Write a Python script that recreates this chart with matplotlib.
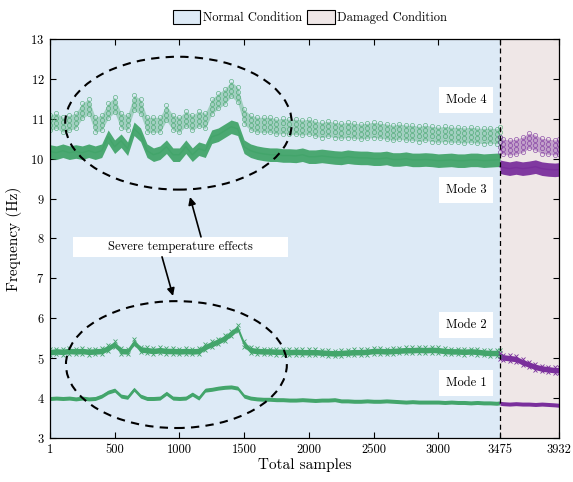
import numpy as np
import matplotlib
matplotlib.use("Agg")
import matplotlib.pyplot as plt
from matplotlib.patches import Ellipse, Patch, Rectangle

plt.rcParams.update({
    "font.family": ["cmr10", "DejaVu Serif"],
    "mathtext.fontset": "cm",
    "axes.formatter.use_mathtext": True,
    "axes.unicode_minus": False,
})

# ---- sample grids ---------------------------------------------------------
normal_samples = [1] + list(range(50, 3451, 50)) + [3475]
damaged_samples = [3476] + list(range(3500, 3901, 50)) + [3932]

# ---- identified natural frequencies (Hz), healthy state -------------------
mode1_normal = [
    3.99, 4.00, 3.99, 4.00, 3.98, 4.00, 3.98, 3.99, 4.05, 4.15,
    4.20, 4.05, 4.02, 4.22, 4.05, 3.99, 3.99, 4.00, 4.12, 4.00,
    3.99, 4.00, 4.10, 4.00, 4.20, 4.22, 4.25, 4.27, 4.28, 4.25,
    4.05, 4.00, 3.98, 3.97, 3.97, 3.96, 3.96, 3.95, 3.95, 3.96,
    3.95, 3.94, 3.95, 3.95, 3.96, 3.93, 3.93, 3.92, 3.92, 3.93,
    3.92, 3.92, 3.93, 3.92, 3.91, 3.90, 3.91, 3.90, 3.90, 3.90,
    3.90, 3.89, 3.90, 3.89, 3.89, 3.88, 3.89, 3.88, 3.88, 3.87,
    3.88,
]
mode2_normal = [
    5.15, 5.17, 5.16, 5.18, 5.17, 5.18, 5.16, 5.17, 5.18, 5.25,
    5.35, 5.18, 5.17, 5.40, 5.22, 5.20, 5.18, 5.20, 5.18, 5.18,
    5.17, 5.18, 5.17, 5.18, 5.28, 5.35, 5.42, 5.50, 5.62, 5.75,
    5.35, 5.20, 5.18, 5.17, 5.17, 5.16, 5.16, 5.15, 5.16, 5.15,
    5.15, 5.15, 5.14, 5.13, 5.12, 5.13, 5.14, 5.15, 5.15, 5.16,
    5.18, 5.18, 5.17, 5.18, 5.19, 5.20, 5.20, 5.21, 5.20, 5.21,
    5.20, 5.18, 5.17, 5.17, 5.16, 5.17, 5.16, 5.14, 5.13, 5.13,
    5.13,
]
mode3_normal = [
    10.18, 10.15, 10.20, 10.15, 10.18, 10.15, 10.20, 10.15, 10.20, 10.55,
    10.30, 10.45, 10.25, 10.75, 10.60, 10.20, 10.10, 10.15, 10.30, 10.10,
    10.10, 10.30, 10.10, 10.25, 10.20, 10.55, 10.60, 10.70, 10.80, 10.75,
    10.30, 10.20, 10.15, 10.12, 10.10, 10.10, 10.08, 10.08, 10.07, 10.10,
    10.05, 10.05, 10.07, 10.05, 10.03, 10.02, 10.05, 10.03, 10.02, 10.02,
    10.00, 10.00, 10.02, 9.98, 9.98, 10.00, 9.97, 9.97, 9.98, 9.97,
    9.95, 9.96, 9.97, 9.95, 9.95, 9.97, 9.97, 9.95, 9.96, 9.97,
    9.97,
]
mode4_normal = [
    10.90, 10.95, 10.85, 10.90, 10.95, 11.20, 11.30, 10.85, 10.90, 11.20,
    11.35, 10.95, 10.90, 11.40, 11.30, 10.85, 10.85, 10.85, 11.15, 10.90,
    10.85, 11.00, 10.90, 11.00, 10.95, 11.30, 11.45, 11.55, 11.75, 11.60,
    11.05, 10.90, 10.85, 10.85, 10.85, 10.80, 10.82, 10.80, 10.80, 10.78,
    10.80, 10.75, 10.72, 10.75, 10.72, 10.70, 10.72, 10.70, 10.68, 10.70,
    10.72, 10.70, 10.68, 10.65, 10.68, 10.65, 10.65, 10.62, 10.65, 10.62,
    10.60, 10.62, 10.60, 10.60, 10.58, 10.60, 10.58, 10.57, 10.58, 10.56,
    10.60,
]

# ---- identified natural frequencies (Hz), damaged state -------------------
mode1_damaged = [3.87, 3.86, 3.85, 3.86, 3.85, 3.85, 3.84, 3.85, 3.84, 3.83, 3.82]
mode2_damaged = [5.05, 5.02, 5.00, 4.98, 4.90, 4.84, 4.78, 4.74, 4.72, 4.70, 4.70]
mode3_damaged = [9.80, 9.78, 9.75, 9.78, 9.75, 9.77, 9.80, 9.75, 9.73, 9.72, 9.73]
mode4_damaged = [10.35, 10.30, 10.28, 10.30, 10.35, 10.45, 10.40, 10.32, 10.30, 10.28, 10.30]

# half-width of the scatter band of each mode (Hz)
mode_spread = {"Mode 1": 0.05, "Mode 2": 0.07, "Mode 3": 0.17, "Mode 4": 0.19}

x_ticks = [1, 500, 1000, 1500, 2000, 2500, 3000, 3475, 3932]
y_ticks = list(range(3, 14))

GREEN = "#43a56b"
PURPLE = "#7a2f9c"
NORMAL_BG = "#ddeaf6"
DAMAGED_BG = "#efe7e7"

fig = plt.figure(figsize=(5.73, 4.82), dpi=100)
ax = fig.add_axes([0.0873, 0.0913, 0.8883, 0.8278])

ax.axvspan(1, 3475, color=NORMAL_BG, zorder=0, lw=0)
ax.axvspan(3475, 3932, color=DAMAGED_BG, zorder=0, lw=0)


def band(x, y, sp, color, alpha=1.0):
    y = np.asarray(y)
    ax.fill_between(x, y - sp, y + sp, color=color, alpha=alpha, lw=0, zorder=2)


for xs, color, data in [
    (normal_samples, GREEN, (mode1_normal, mode2_normal, mode3_normal, mode4_normal)),
    (damaged_samples, PURPLE, (mode1_damaged, mode2_damaged, mode3_damaged, mode4_damaged)),
]:
    m1, m2, m3, m4 = data
    # Mode 1: dense dots
    band(xs, m1, mode_spread["Mode 1"], color)
    ax.plot(xs, m1, color=color, lw=1.0, zorder=3)
    # Mode 2: crosses
    sp = mode_spread["Mode 2"]
    band(xs, m2, sp, color)
    for off in (-sp, sp):
        ax.plot(xs, np.asarray(m2) + off, ls="none", marker="x", ms=2.5,
                mew=0.6, color=color, zorder=3)
    # Mode 3: continuous line
    sp = mode_spread["Mode 3"]
    band(xs, m3, sp, color, alpha=0.95)
    ax.plot(xs, m3, color=color, lw=1.0, zorder=3)
    # Mode 4: open circles
    sp = mode_spread["Mode 4"]
    band(xs, m4, sp, color, alpha=0.38)
    for off in (-sp, -sp / 3, sp / 3, sp):
        ax.plot(xs, np.asarray(m4) + off, ls="none", marker="o", ms=3,
                mfc="none", mew=0.5, color=color, alpha=0.8, zorder=3)

ax.axvline(3475, color="black", lw=0.9, ls=(0, (4, 3)), zorder=4)

# regions of strong temperature influence
for cx, cy, w, h in [(993, 10.89, 1750, 3.33), (977, 4.84, 1706, 3.18)]:
    ax.add_patch(Ellipse((cx, cy), w, h, fill=False, ec="black", lw=1.5,
                         ls=(0, (4, 3)), zorder=5))

ax.add_patch(Rectangle((179, 7.54), 1660, 0.50, fc="white", ec="none", zorder=6))
ax.text(1009, 7.79, "Severe temperature effects", ha="center", va="center",
        fontsize=9, zorder=7)
arrow = dict(arrowstyle="-|>", color="black", lw=1.2, mutation_scale=11,
             shrinkA=0, shrinkB=0)
ax.annotate("", xy=(1082, 9.04), xytext=(1167, 8.04), arrowprops=arrow, zorder=7)
ax.annotate("", xy=(951, 6.56), xytext=(866, 7.54), arrowprops=arrow, zorder=7)

box = dict(boxstyle="square,pad=0.55", fc="white", ec="none")
for label, yv in [("Mode 4", 11.47), ("Mode 3", 9.22), ("Mode 2", 5.83), ("Mode 1", 4.38)]:
    ax.text(3214, yv, label, ha="center", va="center", fontsize=9, bbox=box, zorder=7)

ax.set_xlim(1, 3932)
ax.set_ylim(3, 13)
ax.set_xticks(x_ticks)
ax.set_xticklabels([str(t) for t in x_ticks])
ax.set_yticks(y_ticks)
ax.tick_params(direction="in", top=True, right=True, labeltop=False, labelright=False,
               length=4.5, width=0.8, labelsize=9, pad=4)
for s in ax.spines.values():
    s.set_linewidth(0.9)
    s.set_zorder(8)

ax.set_xlabel("Total samples", fontsize=11, labelpad=2)
ax.set_ylabel("Frequency (Hz)", fontsize=11, labelpad=6)

handles = [Patch(fc=NORMAL_BG, ec="black", lw=0.8, label="Normal Condition"),
           Patch(fc=DAMAGED_BG, ec="black", lw=0.8, label="Damaged Condition")]
fig.legend(handles=handles, loc="center", bbox_to_anchor=(0.541, 0.965), ncol=2,
           frameon=False, fontsize=9, handlelength=2.2, handleheight=1.4,
           handletextpad=0.2, columnspacing=0.4, borderaxespad=0)

fig.savefig("out.png", dpi=100)
